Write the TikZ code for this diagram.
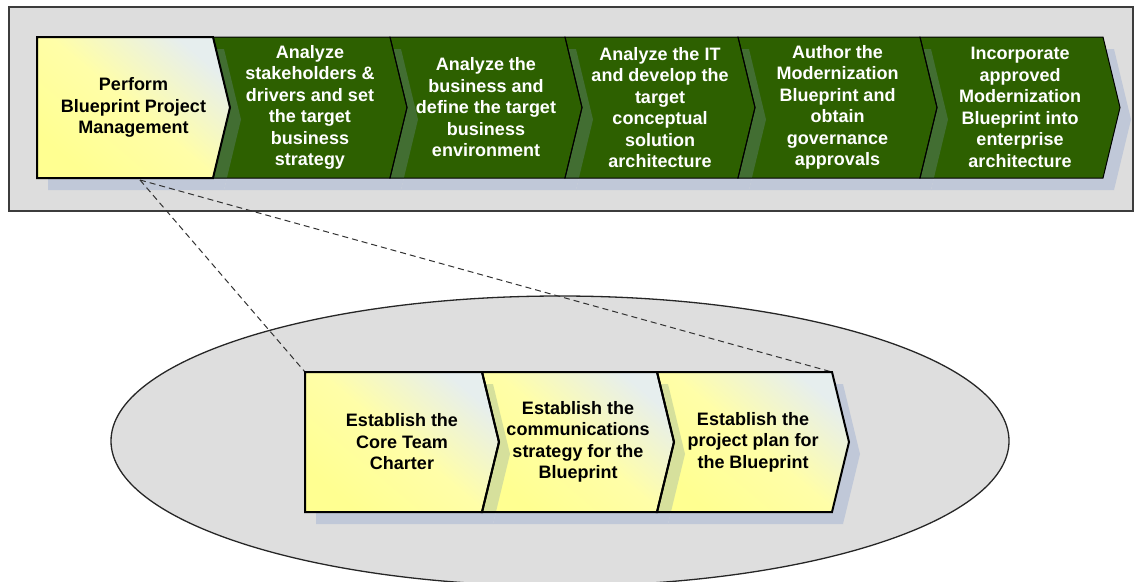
\documentclass[tikz,border=0pt]{standalone}
\usepackage{fontspec}
\setmainfont{Liberation Sans}
\newcommand\chevN[4]{(#1,#3) -- (#2,#3) -- ({#2+17},{(#3+#4)/2}) -- (#2,#4) -- (#1,#4) -- ({#1+17},{(#3+#4)/2}) -- cycle}
\newcommand\chevF[4]{(#1,#3) -- (#2,#3) -- ({#2+17},{(#3+#4)/2}) -- (#2,#4) -- (#1,#4) -- cycle}
\definecolor{bggray}{RGB}{221,221,221}
\definecolor{ellgray}{RGB}{222,222,222}
\definecolor{framec}{RGB}{60,60,60}
\definecolor{shadowc}{RGB}{192,200,216}
\definecolor{greenc}{RGB}{45,96,0}
\definecolor{gband}{RGB}{66,110,50}
\definecolor{yband}{RGB}{214,224,156}
\definecolor{ytop}{RGB}{230,238,238}
\definecolor{ymid}{RGB}{255,254,168}
\definecolor{ybot}{RGB}{255,255,145}
\definecolor{dashc}{RGB}{50,50,50}
\tikzset{
  txt/.style={font=\fontsize{18}{21.5}\selectfont\bfseries, align=center, inner sep=0pt},
  wtxt/.style={txt, text=white},
  btxt/.style={txt, text=black},
  yfill/.style={top color=ytop, bottom color=ybot, middle color=ymid, shading angle=-40},
  gfill/.style={fill=greenc},
  gline/.style={draw=black, line width=1pt, line join=miter},
  yline/.style={draw=black, line width=2pt, line join=miter},
  shad/.style={fill=shadowc},
  dashline/.style={draw=dashc, line width=1pt, dash pattern=on 6pt off 4pt}
}
\begin{document}
\begin{tikzpicture}[x=1pt,y=-1pt]
\useasboundingbox (0,0) rectangle (1135,581);
% outer frame
\filldraw[fill=bggray, draw=framec, line width=1.3pt] (9,7) rectangle (1133,211);
% ellipse
\begin{scope}
\clip (0,0) rectangle (1135,581);
\filldraw[fill=ellgray, draw=black!85, line width=1.3pt] (560,441) ellipse [x radius=449, y radius=145];
\end{scope}
% shadows
\begin{scope}[shift={(11,12)}]
\fill[shad] \chevF{37}{213}{37}{178};
\fill[shad] \chevN{213}{390}{37}{178};
\fill[shad] \chevN{390}{565}{37}{178};
\fill[shad] \chevN{565}{738}{37}{178};
\fill[shad] \chevN{738}{920}{37}{178};
\fill[shad] \chevN{920}{1103}{37}{178};
\fill[shad] \chevF{305}{482}{372}{512};
\fill[shad] \chevN{482}{657}{372}{512};
\fill[shad] \chevN{657}{832}{372}{512};
\end{scope}
% connector anchors
\coordinate (pm) at (140,180);
\coordinate (lowTL) at (305,372);
\coordinate (lowTR) at (832,372);
\draw[dashline] (pm) -- (lowTL);
\draw[dashline] (pm) -- (lowTR);
% fills top row
\shade[yfill] \chevF{37}{213}{37}{178};
\fill[gfill] \chevN{213}{390}{37}{178};
\fill[gfill] \chevN{390}{565}{37}{178};
\fill[gfill] \chevN{565}{738}{37}{178};
\fill[gfill] \chevN{738}{920}{37}{178};
\fill[gfill] \chevN{920}{1103}{37}{178};
% fills lower row
\shade[yfill] \chevF{305}{482}{372}{512};
\shade[yfill] \chevN{482}{657}{372}{512};
\shade[yfill] \chevN{657}{832}{372}{512};
% bands (shadow of previous step seen through)
\begin{scope}\clip \chevN{213}{390}{37}{178};\fill[gband] [shift={(11,12)}] \chevF{37}{213}{37}{178};\end{scope}
\begin{scope}\clip \chevN{390}{565}{37}{178};\fill[gband] [shift={(11,12)}] \chevN{213}{390}{37}{178};\end{scope}
\begin{scope}\clip \chevN{565}{738}{37}{178};\fill[gband] [shift={(11,12)}] \chevN{390}{565}{37}{178};\end{scope}
\begin{scope}\clip \chevN{738}{920}{37}{178};\fill[gband] [shift={(11,12)}] \chevN{565}{738}{37}{178};\end{scope}
\begin{scope}\clip \chevN{920}{1103}{37}{178};\fill[gband] [shift={(11,12)}] \chevN{738}{920}{37}{178};\end{scope}
\begin{scope}\clip \chevN{482}{657}{372}{512};\fill[yband] [shift={(11,12)}] \chevF{305}{482}{372}{512};\end{scope}
\begin{scope}\clip \chevN{657}{832}{372}{512};\fill[yband] [shift={(11,12)}] \chevN{482}{657}{372}{512};\end{scope}
% outlines
\draw[gline] \chevN{213}{390}{37}{178};
\draw[gline] \chevN{390}{565}{37}{178};
\draw[gline] \chevN{565}{738}{37}{178};
\draw[gline] \chevN{738}{920}{37}{178};
\draw[gline] \chevN{920}{1103}{37}{178};
\draw[yline] \chevF{37}{213}{37}{178};
\draw[yline] \chevF{305}{482}{372}{512};
\draw[yline] \chevN{482}{657}{372}{512};
\draw[yline] \chevN{657}{832}{372}{512};
% texts
\node[btxt] (t1) at (133.5,107.5) {Perform\\Blueprint Project\\Management};
\node[wtxt] (t2) at (310,107.5) {Analyze\\stakeholders \&\\drivers and set\\the target\\business\\strategy};
\node[wtxt] (t3) at (486,107.5) {Analyze the\\business and\\define the target\\business\\environment};
\node[wtxt] (t4) at (660,107.5) {Analyze the IT\\and develop the\\target\\conceptual\\solution\\architecture};
\node[wtxt] (t5) at (837.5,107.5) {Author the\\Modernization\\Blueprint and\\obtain\\governance\\approvals};
\node[wtxt] (t6) at (1020,107.5) {Incorporate\\approved\\Modernization\\Blueprint into\\enterprise\\architecture};
\node[btxt] (b1) at (402,442) {Establish the\\Core Team\\Charter};
\node[btxt] (b2) at (578,442) {Establish the\\communications\\strategy for the\\Blueprint};
\node[btxt] (b3) at (753,442) {Establish the\\project plan for\\the Blueprint};
\end{tikzpicture}
\end{document}
